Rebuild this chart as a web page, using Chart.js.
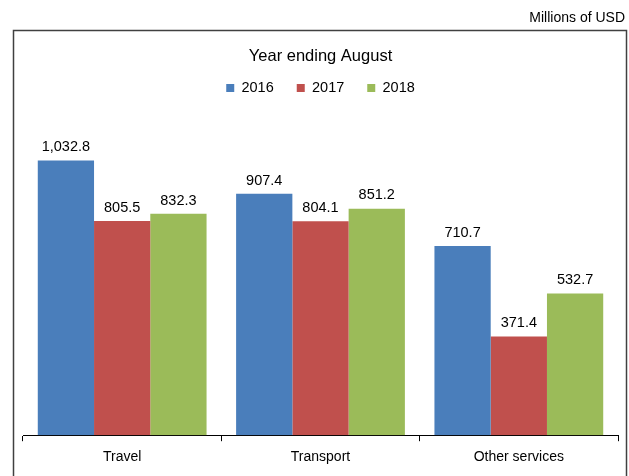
<!DOCTYPE html>
<html>
<head>
<meta charset="utf-8">
<script src="https://cdn.jsdelivr.net/npm/chart.js@4.4.1/dist/chart.umd.min.js"></script>
<style>
  html, body { margin: 0; padding: 0; background: #fff; }
  #wrap { width: 629px; height: 476px; position: relative; }
</style>
</head>
<body>
<div id="wrap"><canvas id="myChart"></canvas></div>
<script>
var categories = ["Travel", "Transport", "Other services"];
var years = ["2016", "2017", "2018"];
var values2016 = [1032.8, 907.4, 710.7];
var values2017 = [805.5, 804.1, 371.4];
var values2018 = [832.3, 851.2, 532.7];
var colors = ["#4a7ebb", "#c0504d", "#9bbb59"];

Chart.defaults.font.family = "'Liberation Sans', Arial, sans-serif";
Chart.defaults.color = "#000";

// frame around the plot and the unit note in the top corner
var framePlugin = {
    id: "frame",
    beforeDraw: function (chart) {
        var c = chart.ctx;
        c.save();
        c.strokeStyle = "#404040";
        c.lineWidth = 1.5;
        c.strokeRect(13.5, 30.5, 613, 460);
        c.fillStyle = "#000";
        c.font = "14px 'Liberation Sans', Arial, sans-serif";
        c.textAlign = "right";
        c.textBaseline = "middle";
        c.fillText("Millions of USD", 625, 18);
        c.restore();
    }
};

// value labels above each bar
var valueLabels = {
    id: "valueLabels",
    afterDatasetsDraw: function (chart) {
        var c = chart.ctx;
        c.save();
        c.fillStyle = "#000";
        c.font = "14.5px 'Liberation Sans', Arial, sans-serif";
        c.textAlign = "center";
        c.textBaseline = "bottom";
        chart.data.datasets.forEach(function (ds, i) {
            chart.getDatasetMeta(i).data.forEach(function (bar, j) {
                var txt = ds.data[j].toLocaleString("en-US", {minimumFractionDigits: 1, maximumFractionDigits: 1});
                c.fillText(txt, bar.x, bar.y - 6);
            });
        });
        c.restore();
    }
};

var ctx = document.getElementById("myChart");
var myChart = new Chart(ctx, {
    type: "bar",
    data: {
        labels: categories,
        datasets: [
            {label: years[0], data: values2016, backgroundColor: colors[0]},
            {label: years[1], data: values2017, backgroundColor: colors[1]},
            {label: years[2], data: values2018, backgroundColor: colors[2]}
        ]
    },
    options: {
        responsive: true,
        maintainAspectRatio: false,
        animation: false,
        layout: {padding: {top: 47, left: 23, right: 11, bottom: 2}},
        datasets: {bar: {categoryPercentage: 0.851, barPercentage: 1.0}},
        plugins: {
            title: {
                display: true,
                text: "Year ending August",
                font: {size: 16.5, weight: "normal"},
                padding: {top: 0, bottom: -9}
            },
            legend: {
                labels: {boxWidth: 8, boxHeight: 8, padding: 23, font: {size: 14.5}}
            },
            tooltip: {enabled: false}
        },
        scales: {
            x: {
                grid: {display: true, drawOnChartArea: false, drawTicks: true, tickLength: 6, color: "#000", offset: true},
                border: {display: true, color: "#000", width: 1},
                ticks: {font: {size: 14}, padding: 8}
            },
            y: {
                display: false,
                min: 0,
                max: 1240
            }
        }
    },
    plugins: [framePlugin, valueLabels]
});
</script>
</body>
</html>
